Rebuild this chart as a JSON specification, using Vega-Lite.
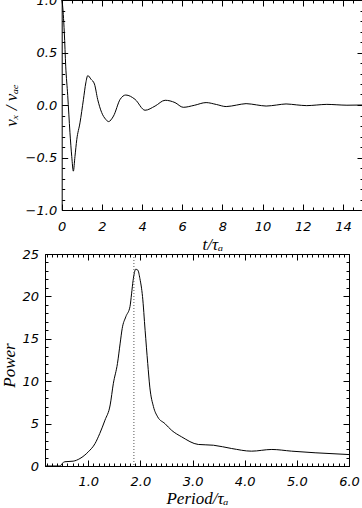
{
  "$schema": "https://vega.github.io/schema/vega-lite/v6.json",
  "padding": {"left": 0, "top": -6, "right": 0, "bottom": 0},
  "background": "white",
  "align": "none",
  "spacing": -5,
  "datasets": {
    "osc": [
      {"t": 0, "v": 1.0}, {"t": 0.03, "v": 0.97}, {"t": 0.13, "v": 0.69}, {"t": 0.2, "v": 0.37},
      {"t": 0.3, "v": 0.09}, {"t": 0.41, "v": -0.26}, {"t": 0.5, "v": -0.49}, {"t": 0.58, "v": -0.63},
      {"t": 0.66, "v": -0.49}, {"t": 0.75, "v": -0.33}, {"t": 0.91, "v": -0.17}, {"t": 1.08, "v": 0.05},
      {"t": 1.2, "v": 0.21}, {"t": 1.3, "v": 0.28}, {"t": 1.46, "v": 0.245}, {"t": 1.63, "v": 0.2},
      {"t": 1.79, "v": 0.054}, {"t": 1.99, "v": -0.072}, {"t": 2.19, "v": -0.136}, {"t": 2.33, "v": -0.158},
      {"t": 2.58, "v": -0.105}, {"t": 2.91, "v": 0.054}, {"t": 3.19, "v": 0.095}, {"t": 3.65, "v": 0.054},
      {"t": 4.15, "v": -0.05}, {"t": 4.65, "v": -0.01}, {"t": 5.15, "v": 0.045}, {"t": 5.64, "v": 0.023},
      {"t": 6.05, "v": -0.022}, {"t": 6.6, "v": -0.003}, {"t": 7.19, "v": 0.023}, {"t": 7.7, "v": 0.005},
      {"t": 8.19, "v": -0.015}, {"t": 8.7, "v": -0.001}, {"t": 9.18, "v": 0.013}, {"t": 9.7, "v": 0.001},
      {"t": 10.18, "v": -0.01}, {"t": 10.7, "v": 0.0}, {"t": 11.17, "v": 0.01}, {"t": 11.7, "v": 0.001},
      {"t": 12.2, "v": -0.006}, {"t": 12.7, "v": 0.0}, {"t": 13.2, "v": 0.006}, {"t": 13.7, "v": 0.002},
      {"t": 14.2, "v": -0.002}, {"t": 15.0, "v": 0.0}
    ],
    "power": [
      {"p": 0.17, "pw": 0}, {"p": 0.46, "pw": 0}, {"p": 0.5, "pw": 0.3}, {"p": 0.55, "pw": 0.5},
      {"p": 0.71, "pw": 0.57}, {"p": 0.84, "pw": 0.88}, {"p": 1.0, "pw": 1.67}, {"p": 1.13, "pw": 2.65},
      {"p": 1.22, "pw": 3.83}, {"p": 1.32, "pw": 5.4}, {"p": 1.42, "pw": 7.2}, {"p": 1.48, "pw": 9.7},
      {"p": 1.56, "pw": 12.1}, {"p": 1.61, "pw": 14.4}, {"p": 1.65, "pw": 16.2}, {"p": 1.72, "pw": 17.6},
      {"p": 1.8, "pw": 18.8}, {"p": 1.83, "pw": 20.3}, {"p": 1.86, "pw": 21.9}, {"p": 1.91, "pw": 23.2},
      {"p": 1.95, "pw": 23.1}, {"p": 1.99, "pw": 22.1}, {"p": 2.04, "pw": 20.0}, {"p": 2.09, "pw": 16.0},
      {"p": 2.14, "pw": 12.1}, {"p": 2.18, "pw": 9.3}, {"p": 2.25, "pw": 7.0}, {"p": 2.33, "pw": 5.8},
      {"p": 2.47, "pw": 5.0}, {"p": 2.6, "pw": 4.2}, {"p": 2.79, "pw": 3.44}, {"p": 3.11, "pw": 2.54},
      {"p": 3.4, "pw": 2.45}, {"p": 3.75, "pw": 2.06}, {"p": 4.13, "pw": 1.75}, {"p": 4.52, "pw": 1.95},
      {"p": 4.9, "pw": 1.75}, {"p": 5.35, "pw": 1.56}, {"p": 6.0, "pw": 1.35}
    ],
    "marker": [{"p": 1.875}]
  },
  "config": {
    "view": {"stroke": "black", "strokeWidth": 1},
    "axis": {
      "domain": false, "domainColor": "black", "domainWidth": 1,
      "grid": false, "tickColor": "black", "tickWidth": 1,
      "labelFlush": false, "labelOverlap": false,
      "labelFont": "DejaVu Sans", "labelFontStyle": "italic", "labelFontSize": 13, "labelColor": "black",
      "titleFont": "Liberation Serif", "titleFontStyle": "italic", "titleFontWeight": "normal",
      "titleFontSize": 17, "titleColor": "black"
    }
  },
  "vconcat": [
    {
      "width": 318, "height": 210,
      "view": {"stroke": null},
      "data": {"name": "osc"},
      "resolve": {"axis": {"x": "independent", "y": "independent"}},
      "layer": [
        {
          "mark": {"type": "line", "color": "black", "strokeWidth": 1, "interpolate": "monotone"},
          "encoding": {
            "x": {"field": "t", "type": "quantitative",
                  "scale": {"domain": [0, 15], "range": [16.7, 318], "nice": false, "zero": false},
                  "axis": {"orient": "bottom", "values": [0, 2, 4, 6, 8, 10, 12, 14], "format": "d",
                           "domain": true, "tickSize": -6, "labelPadding": 16, "title": "t/τₐ",
                           "titleY": 26, "titleBaseline": "top"}},
            "y": {"field": "v", "type": "quantitative",
                  "scale": {"domain": [-1, 1], "nice": false, "zero": false},
                  "axis": {"orient": "left", "offset": -16.7, "values": [-1, -0.5, 0, 0.5, 1], "format": ".1f",
                           "domain": true, "tickSize": -6, "labelPadding": 11, "title": "vₓ / vₐₑ",
                           "titleX": -58.4, "titleBaseline": "top", "titleAngle": 270}}
          }
        },
        {
          "mark": {"type": "line", "opacity": 0},
          "encoding": {
            "x": {"field": "t", "type": "quantitative",
                  "axis": {"orient": "bottom", "values": [0,0.5,1,1.5,2,2.5,3,3.5,4,4.5,5,5.5,6,6.5,7,7.5,8,8.5,9,9.5,10,10.5,11,11.5,12,12.5,13,13.5,14,14.5,15],
                           "tickSize": -3, "labels": false, "title": null}},
            "y": {"field": "v", "type": "quantitative",
                  "axis": {"orient": "left", "offset": -16.7, "values": [-1,-0.9,-0.8,-0.7,-0.6,-0.5,-0.4,-0.3,-0.2,-0.1,0,0.1,0.2,0.3,0.4,0.5,0.6,0.7,0.8,0.9,1],
                           "tickSize": -3, "labels": false, "title": null}}
          }
        },
        {
          "mark": {"type": "line", "opacity": 0},
          "encoding": {
            "x": {"field": "t", "type": "quantitative",
                  "axis": {"orient": "top", "values": [0, 2, 4, 6, 8, 10, 12, 14], "domain": true, "tickSize": -6, "labels": false, "title": null}},
            "y": {"field": "v", "type": "quantitative",
                  "axis": {"orient": "right", "values": [-1, -0.5, 0, 0.5, 1], "domain": true, "tickSize": -6, "labels": false, "title": null}}
          }
        },
        {
          "mark": {"type": "line", "opacity": 0},
          "encoding": {
            "x": {"field": "t", "type": "quantitative",
                  "axis": {"orient": "top", "values": [0,0.5,1,1.5,2,2.5,3,3.5,4,4.5,5,5.5,6,6.5,7,7.5,8,8.5,9,9.5,10,10.5,11,11.5,12,12.5,13,13.5,14,14.5,15],
                           "tickSize": -3, "labels": false, "title": null}},
            "y": {"field": "v", "type": "quantitative",
                  "axis": {"orient": "right", "values": [-1,-0.9,-0.8,-0.7,-0.6,-0.5,-0.4,-0.3,-0.2,-0.1,0,0.1,0.2,0.3,0.4,0.5,0.6,0.7,0.8,0.9,1],
                           "tickSize": -3, "labels": false, "title": null}}
          }
        }
      ]
    },
    {
      "width": 304, "height": 212,
      "resolve": {"axis": {"x": "independent", "y": "independent"}},
      "layer": [
        {
          "data": {"name": "power"},
          "mark": {"type": "line", "color": "black", "strokeWidth": 1, "interpolate": "monotone"},
          "encoding": {
            "x": {"field": "p", "type": "quantitative",
                  "scale": {"domain": [0.17, 6.0], "nice": false, "zero": false},
                  "axis": {"orient": "bottom", "values": [1, 2, 3, 4, 5, 6], "format": ".1f",
                           "tickSize": -6, "labelPadding": 15, "title": "Period/τₐ",
                           "titleY": 24, "titleBaseline": "top"}},
            "y": {"field": "pw", "type": "quantitative",
                  "scale": {"domain": [0, 25], "nice": false, "zero": false},
                  "axis": {"orient": "left", "values": [0, 5, 10, 15, 20, 25], "format": "d",
                           "tickSize": -6, "labelPadding": 12.5, "title": "Power",
                           "titleX": -43.3, "titleY": 111, "titleBaseline": "top", "titleAngle": 270}}
          }
        },
        {
          "data": {"name": "marker"},
          "mark": {"type": "rule", "color": "#555555", "strokeWidth": 1, "strokeDash": [1, 2]},
          "encoding": {"x": {"field": "p", "type": "quantitative", "axis": null}}
        },
        {
          "data": {"name": "power"},
          "mark": {"type": "line", "opacity": 0},
          "encoding": {
            "x": {"field": "p", "type": "quantitative",
                  "axis": {"orient": "bottom", "values": [0.2,0.3,0.4,0.5,0.6,0.7,0.8,0.9,1,1.1,1.2,1.3,1.4,1.5,1.6,1.7,1.8,1.9,2,2.1,2.2,2.3,2.4,2.5,2.6,2.7,2.8,2.9,3,3.1,3.2,3.3,3.4,3.5,3.6,3.7,3.8,3.9,4,4.1,4.2,4.3,4.4,4.5,4.6,4.7,4.8,4.9,5,5.1,5.2,5.3,5.4,5.5,5.6,5.7,5.8,5.9,6],
                           "tickSize": -3, "labels": false, "title": null}},
            "y": {"field": "pw", "type": "quantitative",
                  "axis": {"orient": "left", "values": [0,1,2,3,4,5,6,7,8,9,10,11,12,13,14,15,16,17,18,19,20,21,22,23,24,25],
                           "tickSize": -3, "labels": false, "title": null}}
          }
        },
        {
          "data": {"name": "power"},
          "mark": {"type": "line", "opacity": 0},
          "encoding": {
            "x": {"field": "p", "type": "quantitative",
                  "axis": {"orient": "top", "values": [1, 2, 3, 4, 5, 6], "tickSize": -6, "labels": false, "title": null}},
            "y": {"field": "pw", "type": "quantitative",
                  "axis": {"orient": "right", "values": [0, 5, 10, 15, 20, 25], "tickSize": -6, "labels": false, "title": null}}
          }
        },
        {
          "data": {"name": "power"},
          "mark": {"type": "line", "opacity": 0},
          "encoding": {
            "x": {"field": "p", "type": "quantitative",
                  "axis": {"orient": "top", "values": [0.2,0.3,0.4,0.5,0.6,0.7,0.8,0.9,1,1.1,1.2,1.3,1.4,1.5,1.6,1.7,1.8,1.9,2,2.1,2.2,2.3,2.4,2.5,2.6,2.7,2.8,2.9,3,3.1,3.2,3.3,3.4,3.5,3.6,3.7,3.8,3.9,4,4.1,4.2,4.3,4.4,4.5,4.6,4.7,4.8,4.9,5,5.1,5.2,5.3,5.4,5.5,5.6,5.7,5.8,5.9,6],
                           "tickSize": -3, "labels": false, "title": null}},
            "y": {"field": "pw", "type": "quantitative",
                  "axis": {"orient": "right", "values": [0,1,2,3,4,5,6,7,8,9,10,11,12,13,14,15,16,17,18,19,20,21,22,23,24,25],
                           "tickSize": -3, "labels": false, "title": null}}
          }
        }
      ]
    }
  ]
}
